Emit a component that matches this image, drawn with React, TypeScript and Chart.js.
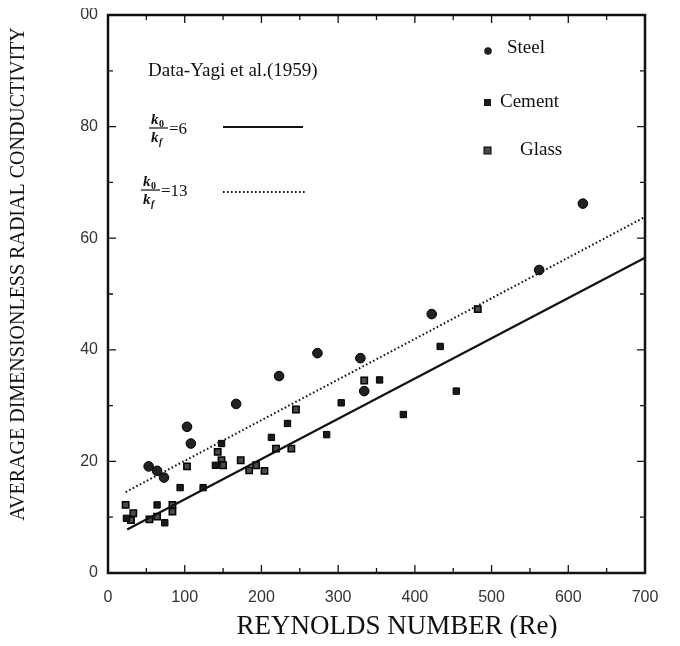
import React, { useEffect, useRef } from "react";
import { Chart, registerables } from "chart.js";
Chart.register(...registerables);

// ---- data ----
const xTickValues = [0, 100, 200, 300, 400, 500, 600, 700];
const yTickValues = [0, 20, 40, 60, 80, 100];
const yTickLabels = ["0", "20", "40", "60", "80", "00"];

const steelRe = [53, 64, 73, 103, 108, 167, 223, 273, 329, 334, 422, 562, 619];
const steelK = [19.1, 18.3, 17.1, 26.2, 23.2, 30.3, 35.3, 39.4, 38.5, 32.6, 46.4, 54.3, 66.2];

const cementRe = [24, 64, 74, 94, 124, 140, 148, 213, 234, 285, 304, 354, 385, 433, 454];
const cementK = [9.8, 12.2, 9.0, 15.3, 15.3, 19.3, 23.2, 24.3, 26.8, 24.8, 30.5, 34.6, 28.4, 40.6, 32.6];

const glassRe = [23, 30, 33, 54, 64, 84, 84, 103, 143, 148, 150, 173, 184, 193, 204, 219, 239, 245, 334, 482];
const glassK = [12.2, 9.5, 10.7, 9.6, 10.1, 12.2, 11.0, 19.1, 21.7, 20.2, 19.3, 20.2, 18.4, 19.3, 18.3, 22.3, 22.3, 29.3, 34.5, 47.3];

const line6Re = [25, 700];
const line6K = [7.8, 56.5];
const line13Re = [23, 700];
const line13K = [14.5, 63.8];

const toPts = (xs: number[], ys: number[]) => xs.map((x, i) => ({ x, y: ys[i] }));

const SERIF = "'Liberation Serif', 'DejaVu Serif', serif";
const SANS = "'Liberation Sans', Arial, sans-serif";

function drawFraction(ctx: CanvasRenderingContext2D, x: number, cy: number, rhs: string) {
  ctx.save();
  ctx.fillStyle = "#111";
  ctx.strokeStyle = "#111";
  ctx.textBaseline = "alphabetic";
  ctx.textAlign = "left";
  ctx.font = `italic bold 15px ${SERIF}`;
  ctx.fillText("k", x + 2, cy - 4);
  ctx.font = `bold 10px ${SERIF}`;
  ctx.fillText("0", x + 10, cy - 1);
  ctx.lineWidth = 1.2;
  ctx.beginPath();
  ctx.moveTo(x, cy);
  ctx.lineTo(x + 19, cy);
  ctx.stroke();
  ctx.font = `italic bold 15px ${SERIF}`;
  ctx.fillText("k", x + 2, cy + 14);
  ctx.font = `italic bold 10px ${SERIF}`;
  ctx.fillText("f", x + 10, cy + 17);
  ctx.font = `17px ${SERIF}`;
  ctx.textBaseline = "middle";
  ctx.fillText(rhs, x + 20, cy + 2);
  ctx.restore();
}

const framePlugin = {
  id: "framePlugin",
  afterDraw(chart: any) {
    const { ctx, chartArea: a, scales } = chart;
    const xs = scales.x;
    const ys = scales.y;
    ctx.save();
    ctx.strokeStyle = "#111";
    ctx.lineWidth = 2.5;
    ctx.strokeRect(a.left, a.top, a.right - a.left, a.bottom - a.top);
    ctx.lineWidth = 1.3;
    // inward ticks
    for (let v = 0; v <= 700; v += 50) {
      const px = xs.getPixelForValue(v);
      const len = v % 100 === 0 ? 8 : 5;
      ctx.beginPath();
      ctx.moveTo(px, a.bottom);
      ctx.lineTo(px, a.bottom - len);
      ctx.moveTo(px, a.top);
      ctx.lineTo(px, a.top + len);
      ctx.stroke();
    }
    for (let v = 0; v <= 100; v += 10) {
      const py = ys.getPixelForValue(v);
      const len = v % 20 === 0 ? 8 : 5;
      ctx.beginPath();
      ctx.moveTo(a.left, py);
      ctx.lineTo(a.left + len, py);
      ctx.moveTo(a.right, py);
      ctx.lineTo(a.right - len, py);
      ctx.stroke();
    }

    // axis titles
    ctx.fillStyle = "#111";
    ctx.textAlign = "center";
    ctx.textBaseline = "middle";
    ctx.font = `27px ${SERIF}`;
    ctx.fillText("REYNOLDS NUMBER (Re)", 389, 619);
    ctx.save();
    ctx.translate(11, 266);
    ctx.rotate(-Math.PI / 2);
    ctx.font = `20px ${SERIF}`;
    ctx.fillText("AVERAGE DIMENSIONLESS RADIAL CONDUCTIVITY", 0, 0);
    ctx.restore();

    // annotations
    ctx.textAlign = "left";
    ctx.font = `19px ${SERIF}`;
    ctx.fillText("Data-Yagi et al.(1959)", 140, 63);

    // legend for lines
    drawFraction(ctx, 141, 120, "=6");
    ctx.lineWidth = 2.2;
    ctx.setLineDash([]);
    ctx.beginPath();
    ctx.moveTo(215, 119);
    ctx.lineTo(295, 119);
    ctx.stroke();

    drawFraction(ctx, 133, 182, "=13");
    ctx.setLineDash([1.6, 2.4]);
    ctx.lineWidth = 2;
    ctx.beginPath();
    ctx.moveTo(215, 184);
    ctx.lineTo(298, 184);
    ctx.stroke();
    ctx.setLineDash([]);

    // legend for markers
    ctx.font = `19px ${SERIF}`;
    ctx.fillText("Steel", 499, 40);
    ctx.fillText("Cement", 492, 94);
    ctx.fillText("Glass", 512, 142);

    ctx.fillStyle = "#222";
    ctx.beginPath();
    ctx.arc(480, 43, 3.8, 0, Math.PI * 2);
    ctx.fill();
    ctx.fillStyle = "#1a1a1a";
    ctx.fillRect(476, 91, 7, 7);
    ctx.fillStyle = "#4a4a4a";
    ctx.fillRect(476, 139, 7, 7);
    ctx.strokeStyle = "#000";
    ctx.lineWidth = 1;
    ctx.strokeRect(476, 139, 7, 7);
    ctx.restore();
  },
};

export default function App() {
  const ref = useRef<HTMLCanvasElement | null>(null);
  useEffect(() => {
    if (!ref.current) return;
    const chart = new Chart(ref.current, {
      type: "scatter",
      data: {
        datasets: [
          {
            label: "k0/kf=6",
            type: "line",
            data: toPts(line6Re, line6K),
            borderColor: "#111",
            borderWidth: 2.2,
            pointRadius: 0,
            fill: false,
          } as any,
          {
            label: "k0/kf=13",
            type: "line",
            data: toPts(line13Re, line13K),
            borderColor: "#111",
            borderWidth: 2,
            borderDash: [1.6, 2.4],
            pointRadius: 0,
            fill: false,
          } as any,
          {
            label: "Steel",
            data: toPts(steelRe, steelK),
            pointStyle: "circle",
            pointRadius: 4.8,
            backgroundColor: "#222",
            borderColor: "#000",
            borderWidth: 1,
          },
          {
            label: "Cement",
            data: toPts(cementRe, cementK),
            pointStyle: "rect",
            pointRadius: 4.5,
            backgroundColor: "#1a1a1a",
            borderColor: "#000",
            borderWidth: 1,
          },
          {
            label: "Glass",
            data: toPts(glassRe, glassK),
            pointStyle: "rect",
            pointRadius: 4.5,
            backgroundColor: "#4a4a4a",
            borderColor: "#000",
            borderWidth: 1.5,
          },
        ],
      },
      options: {
        animation: false,
        responsive: false,
        devicePixelRatio: 1,
        layout: { padding: { left: 0, right: 27, top: 7, bottom: 0 } },
        plugins: {
          legend: { display: false },
          tooltip: { enabled: false },
        },
        scales: {
          x: {
            type: "linear",
            min: 0,
            max: 700,
            afterBuildTicks: (s: any) => {
              s.ticks = xTickValues.map((v) => ({ value: v }));
            },
            afterFit: (s: any) => {
              s.height = 65;
              s.paddingLeft = 0;
              s.paddingRight = 0;
            },
            ticks: {
              callback: (v: any) => String(v),
              font: { family: SANS, size: 16 },
              color: "#333",
              padding: 15,
              maxRotation: 0,
            },
            grid: { display: false, drawTicks: false },
            border: { display: false },
          },
          y: {
            type: "linear",
            min: 0,
            max: 100,
            afterBuildTicks: (s: any) => {
              s.ticks = yTickValues.map((v) => ({ value: v }));
            },
            afterFit: (s: any) => {
              s.width = 100;
              s.paddingTop = 0;
              s.paddingBottom = 0;
            },
            ticks: {
              callback: (v: any) => yTickLabels[yTickValues.indexOf(Number(v))] ?? "",
              font: { family: SANS, size: 16 },
              color: "#333",
              padding: 10,
            },
            grid: { display: false, drawTicks: false },
            border: { display: false },
          },
        },
      },
      plugins: [framePlugin],
    });
    return () => chart.destroy();
  }, []);
  return <canvas ref={ref} width={664} height={630} style={{ display: "block" }} />;
}
